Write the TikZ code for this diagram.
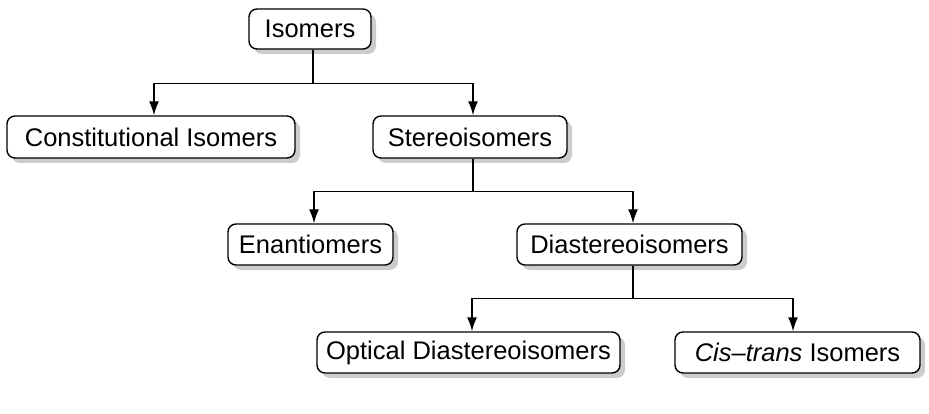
\documentclass[tikz,border=0pt]{standalone}
\usepackage{fontspec}
\setmainfont{Liberation Sans}
\usetikzlibrary{arrows.meta,shadows,calc}
\begin{document}
\begin{tikzpicture}[x=1pt,y=-1pt,
  box/.style={draw=black, line width=1.4pt, rounded corners=8pt, fill=white,
    inner sep=0pt, font=\fontsize{25.5}{30}\selectfont,
    drop shadow={shadow xshift=5pt, shadow yshift=-5pt, fill=gray!40, opacity=1}},
  conn/.style={line width=1.4pt},
  arr/.style={line width=1.4pt, -{Latex[length=14pt,width=10pt]}}]
\useasboundingbox (0,0) rectangle (929,414);
\node[box, minimum width=122pt, minimum height=40pt] (iso) at (310,29) {Isomers};
\node[box, minimum width=288pt, minimum height=42pt] (con) at (151,137) {Constitutional Isomers\hspace{8pt}};
\node[box, minimum width=194pt, minimum height=42pt] (ste) at (470,137) {Stereoisomers};
\node[box, minimum width=165pt, minimum height=41pt] (ena) at (310.5,244.5) {Enantiomers};
\node[box, minimum width=225pt, minimum height=41pt] (dia) at (629.5,244.5) {Diastereoisomers};
\node[box, minimum width=303pt, minimum height=41pt] (opt) at (468.5,352.5) {Optical Diastereoisomers};
\node[box, minimum width=245pt, minimum height=41pt] (cis) at (797.5,352.5) {\textit{Cis–trans} Isomers};
% level 1
\path ([xshift=3pt]iso.south) ++(0,34) coordinate (j1);
\draw[conn] ([xshift=3pt]iso.south) -- (j1);
\draw[arr] (j1) -| ([xshift=3pt]con.north);
\draw[arr] (j1) -| ([xshift=3pt]ste.north);
% level 2
\path ([xshift=3pt]ste.south) ++(0,33) coordinate (j2);
\draw[conn] ([xshift=3pt]ste.south) -- (j2);
\draw[arr] (j2) -| ([xshift=3.5pt]ena.north);
\draw[arr] (j2) -| ([xshift=3.5pt]dia.north);
% level 3
\path ([xshift=3.5pt]dia.south) ++(0,33) coordinate (j3);
\draw[conn] ([xshift=3.5pt]dia.south) -- (j3);
\draw[arr] (j3) -| ([xshift=3.5pt]opt.north);
\draw[arr] (j3) -| ([xshift=-4.5pt]cis.north);
\end{tikzpicture}
\end{document}
